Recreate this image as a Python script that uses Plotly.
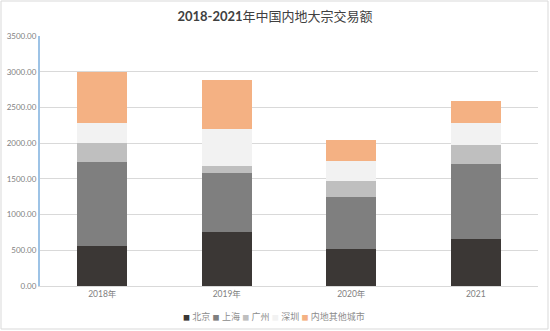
import plotly.graph_objects as go

years = ["2018年", "2019年", "2020年", "2021"]
beijing = [556, 752, 514, 654]
shanghai = [1178, 827, 729, 1056]
guangzhou = [266, 108, 229, 267]
shenzhen = [280, 514, 280, 303]
others = [720, 687, 295, 313]

series = [
    ("北京", beijing, "#3b3735"),
    ("上海", shanghai, "#7f7f7f"),
    ("广州", guangzhou, "#bfbfbf"),
    ("深圳", shenzhen, "#f2f2f2"),
    ("内地其他城市", others, "#f4b183"),
]

font_family = "Lato, 'Noto Sans CJK SC', sans-serif"

fig = go.Figure()
for name, vals, color in series:
    fig.add_trace(go.Bar(
        x=years, y=vals, name=name, showlegend=False,
        marker=dict(color=color, line=dict(width=0)),
    ))

L, R, T, B = 40, 12, 36, 45
W, H = 550, 331
pw, ph = W - L - R, H - T - B

def fx(px):
    return (px - L) / pw

def fy(py):
    return (H - B - py) / ph

# compact legend line: small coloured squares followed by names
legend_text = " ".join(
    f"<span style='color:{color};font-size:7px'>■</span> {name}"
    for name, _, color in series
)

fig.update_layout(
    width=W, height=H,
    barmode="stack", bargap=0.6,
    margin=dict(l=L, r=R, t=T, b=B, autoexpand=False),
    paper_bgcolor="white", plot_bgcolor="white",
    font=dict(family=font_family, color="#7f7f7f", size=9),
    title=dict(
        text="<b>2018-2021</b>年中国内地大宗交易额",
        x=0.5, xanchor="center", y=1 - 16 / H, yanchor="middle",
        font=dict(size=13, color="#404040", family=font_family),
    ),
    xaxis=dict(
        showgrid=False, showline=True, linecolor="#d9d9d9", linewidth=1,
        ticks="", tickfont=dict(size=8.5, color="#7f7f7f"), automargin=False,
    ),
    yaxis=dict(
        range=[0, 3500], dtick=500, tickformat=".2f",
        showgrid=True, gridcolor="#d9d9d9", gridwidth=1,
        showline=True, linecolor="#9dc3e6", linewidth=2,
        zeroline=False, ticks="", tickfont=dict(size=8, color="#7f7f7f"),
        automargin=False,
    ),
    annotations=[dict(
        text=legend_text, xref="paper", yref="paper",
        x=fx(274), y=fy(316), xanchor="center", yanchor="middle",
        showarrow=False, font=dict(size=9, color="#8c8c8c"),
    )],
    shapes=[dict(
        type="rect", xref="paper", yref="paper",
        x0=fx(1), x1=fx(548), y0=fy(329), y1=fy(1),
        line=dict(color="#d9d9d9", width=1), layer="below",
    )],
)

fig.write_html("out.html")
